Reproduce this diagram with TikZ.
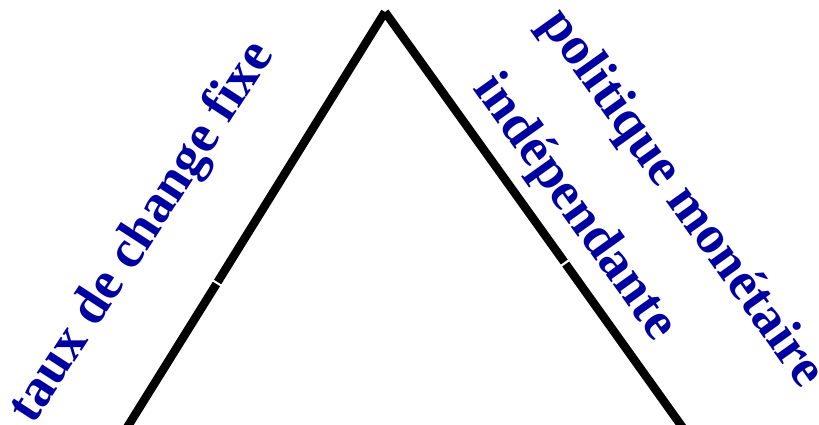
\documentclass[tikz,border=0pt]{standalone}
\usepackage{fontspec}
\setmainfont{Liberation Serif}
\definecolor{labelblue}{RGB}{0,0,160}
\begin{document}
\begin{tikzpicture}[x=1pt,y=-1pt,
  side/.style={line width=8.5pt, line cap=butt, black},
  lbl/.style={text=labelblue, font=\bfseries\fontsize{54}{60}\selectfont, inner sep=0pt, anchor=center}]
\useasboundingbox (0,0) rectangle (819,425);
\clip (0,0) rectangle (819,425);
\coordinate (apex) at (385,12);
\coordinate (lgapA) at (217.6,282);
\coordinate (lgapB) at (216.4,284);
\coordinate (lbot) at (122.4,435);
\coordinate (rgapA) at (564.3,262);
\coordinate (rgapB) at (565.7,264);
\coordinate (rbot) at (688,435);
\draw[side] (apex) -- (lgapA);
\draw[side] (lgapB) -- (lbot);
\draw[side] (apex) -- (rgapA);
\draw[side] (rgapB) -- (rbot);
\node[lbl, rotate=57] (fixe) at (143,233) {taux de change fixe};
\node[lbl, rotate=-54.5] (pol) at (681,199) {politique monétaire};
\node[lbl, rotate=-54.5] (ind) at (574,208) {indépendante};
\end{tikzpicture}
\end{document}
